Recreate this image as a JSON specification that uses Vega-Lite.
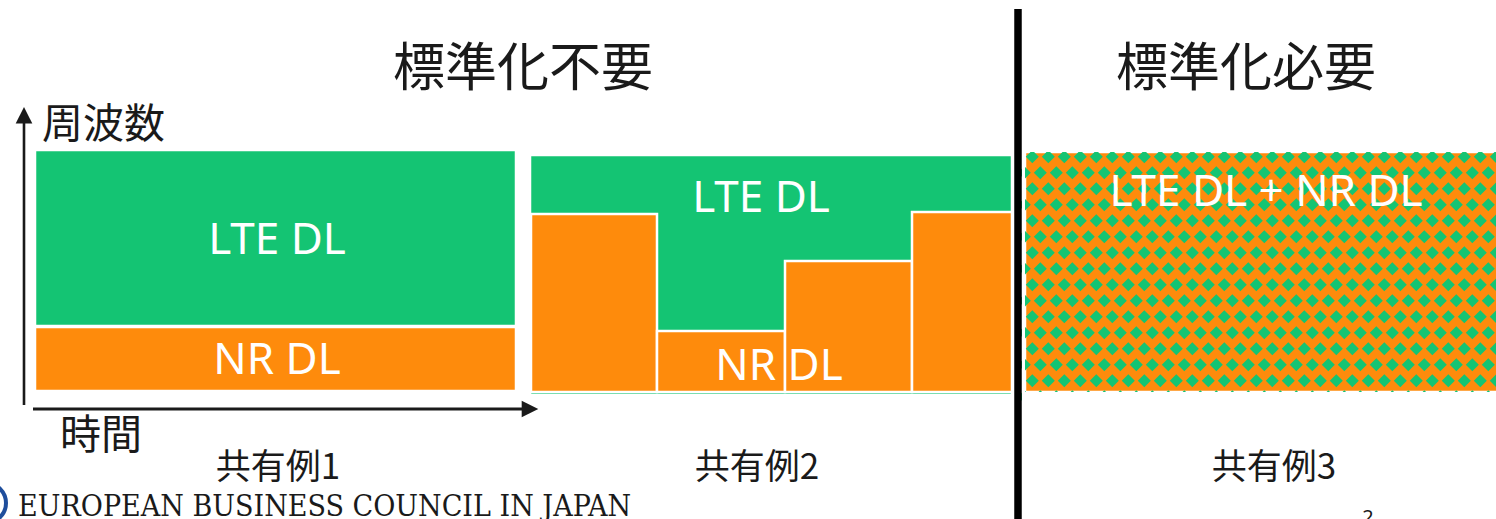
{
  "$schema": "https://vega.github.io/schema/vega-lite/v6.json",
  "width": 1496,
  "height": 519,
  "autosize": {"type": "none"},
  "padding": 0,
  "background": "white",
  "config": {"view": {"stroke": null}},
  "datasets": {
    "blocks": [
      {"x": 35, "x2": 516, "y": 150, "y2": 326, "k": "LTE DL"},
      {"x": 35, "x2": 516, "y": 327, "y2": 391, "k": "NR DL"},
      {"x": 530, "x2": 1012, "y": 155, "y2": 395, "k": "LTE DL"},
      {"x": 531, "x2": 657, "y": 214, "y2": 392, "k": "NR DL"},
      {"x": 657, "x2": 785, "y": 331, "y2": 392, "k": "NR DL"},
      {"x": 785, "x2": 912, "y": 261, "y2": 392, "k": "NR DL"},
      {"x": 912, "x2": 1012, "y": 212, "y2": 392, "k": "NR DL"},
      {"x": 1025, "x2": 1500, "y": 152, "y2": 392, "k": "NR DL"}
    ],
    "patternRows": [
      {"x": 1032.3, "y": 156.7}, {"x": 1024.3, "y": 172.7},
      {"x": 1032.3, "y": 188.7}, {"x": 1024.3, "y": 204.7},
      {"x": 1032.3, "y": 220.7}, {"x": 1024.3, "y": 236.7},
      {"x": 1032.3, "y": 252.7}, {"x": 1024.3, "y": 268.7},
      {"x": 1032.3, "y": 284.7}, {"x": 1024.3, "y": 300.7},
      {"x": 1032.3, "y": 316.7}, {"x": 1024.3, "y": 332.7},
      {"x": 1032.3, "y": 348.7}, {"x": 1024.3, "y": 364.7},
      {"x": 1032.3, "y": 380.7}, {"x": 1024.3, "y": 396.7}
    ],
    "masks": [
      {"x": 1022, "x2": 1025, "y": 140, "y2": 405},
      {"x": 1022, "x2": 1500, "y": 140, "y2": 152},
      {"x": 1022, "x2": 1500, "y": 392, "y2": 405}
    ],
    "divider": [{"x": 1018, "y": 9, "y2": 525}],
    "vaxis": [{"x": 24, "y": 122, "y2": 405}],
    "haxis": [{"x": 33, "x2": 523, "y": 409}],
    "arrowUp": [{"x": 24, "y": 115.3}],
    "arrowRight": [{"x": 530, "y": 409}],
    "logo": [{"x": -14, "y": 503}],
    "titles": [
      {"x": 523, "y": 70, "t": "標準化不要"},
      {"x": 1246, "y": 70, "t": "標準化必要"}
    ],
    "axisLabels": [
      {"x": 42, "y": 126, "t": "周波数"},
      {"x": 60, "y": 437, "t": "時間"}
    ],
    "inner": [
      {"x": 277, "y": 241, "t": "LTE DL"},
      {"x": 277, "y": 361, "t": "NR DL"},
      {"x": 761, "y": 199, "t": "LTE DL"},
      {"x": 779, "y": 367, "t": "NR DL"},
      {"x": 1266, "y": 193, "t": "LTE DL + NR DL"}
    ],
    "captions": [
      {"x": 278, "y": 468, "t": "共有例1"},
      {"x": 757, "y": 468, "t": "共有例2"},
      {"x": 1274, "y": 468, "t": "共有例3"}
    ],
    "footer": [{"x": 18, "y": 516, "t": "EUROPEAN BUSINESS COUNCIL IN JAPAN"}],
    "page": [{"x": 1368, "y": 524, "t": "2"}]
  },
  "layer": [
    {
      "data": {"name": "blocks"},
      "mark": {"type": "rect", "stroke": "white", "strokeWidth": 2.5},
      "encoding": {
        "x": {"field": "x", "type": "quantitative", "scale": {"domain": [0, 1496], "nice": false, "zero": false}, "axis": null},
        "x2": {"field": "x2"},
        "y": {"field": "y", "type": "quantitative", "scale": {"domain": [0, 519], "nice": false, "zero": false, "reverse": true}, "axis": null},
        "y2": {"field": "y2"},
        "color": {"field": "k", "type": "nominal", "scale": {"domain": ["LTE DL", "NR DL"], "range": ["#14C473", "#FE8B0C"]}, "legend": null}
      }
    },
    {
      "data": {"name": "patternRows"},
      "mark": {"type": "point", "filled": true, "opacity": 1, "strokeWidth": 0, "size": 4, "color": "#14C473",
        "shape": "M0 -6.5L6.5 0L0 6.5L-6.5 0ZM16 -6.5L22.5 0L16 6.5L9.5 0ZM32 -6.5L38.5 0L32 6.5L25.5 0ZM48 -6.5L54.5 0L48 6.5L41.5 0ZM64 -6.5L70.5 0L64 6.5L57.5 0ZM80 -6.5L86.5 0L80 6.5L73.5 0ZM96 -6.5L102.5 0L96 6.5L89.5 0ZM112 -6.5L118.5 0L112 6.5L105.5 0ZM128 -6.5L134.5 0L128 6.5L121.5 0ZM144 -6.5L150.5 0L144 6.5L137.5 0ZM160 -6.5L166.5 0L160 6.5L153.5 0ZM176 -6.5L182.5 0L176 6.5L169.5 0ZM192 -6.5L198.5 0L192 6.5L185.5 0ZM208 -6.5L214.5 0L208 6.5L201.5 0ZM224 -6.5L230.5 0L224 6.5L217.5 0ZM240 -6.5L246.5 0L240 6.5L233.5 0ZM256 -6.5L262.5 0L256 6.5L249.5 0ZM272 -6.5L278.5 0L272 6.5L265.5 0ZM288 -6.5L294.5 0L288 6.5L281.5 0ZM304 -6.5L310.5 0L304 6.5L297.5 0ZM320 -6.5L326.5 0L320 6.5L313.5 0ZM336 -6.5L342.5 0L336 6.5L329.5 0ZM352 -6.5L358.5 0L352 6.5L345.5 0ZM368 -6.5L374.5 0L368 6.5L361.5 0ZM384 -6.5L390.5 0L384 6.5L377.5 0ZM400 -6.5L406.5 0L400 6.5L393.5 0ZM416 -6.5L422.5 0L416 6.5L409.5 0ZM432 -6.5L438.5 0L432 6.5L425.5 0ZM448 -6.5L454.5 0L448 6.5L441.5 0ZM464 -6.5L470.5 0L464 6.5L457.5 0Z"},
      "encoding": {
        "x": {"field": "x", "type": "quantitative"},
        "y": {"field": "y", "type": "quantitative"}
      }
    },
    {
      "data": {"name": "masks"},
      "mark": {"type": "rect", "color": "white"},
      "encoding": {
        "x": {"field": "x", "type": "quantitative"},
        "x2": {"field": "x2"},
        "y": {"field": "y", "type": "quantitative"},
        "y2": {"field": "y2"}
      }
    },
    {
      "data": {"name": "divider"},
      "mark": {"type": "rule", "color": "#000000", "strokeWidth": 7.5},
      "encoding": {
        "x": {"field": "x", "type": "quantitative"},
        "y": {"field": "y", "type": "quantitative"},
        "y2": {"field": "y2"}
      }
    },
    {
      "data": {"name": "vaxis"},
      "mark": {"type": "rule", "color": "#1a1a1a", "strokeWidth": 2.6},
      "encoding": {
        "x": {"field": "x", "type": "quantitative"},
        "y": {"field": "y", "type": "quantitative"},
        "y2": {"field": "y2"}
      }
    },
    {
      "data": {"name": "haxis"},
      "mark": {"type": "rule", "color": "#1a1a1a", "strokeWidth": 2.8},
      "encoding": {
        "x": {"field": "x", "type": "quantitative"},
        "x2": {"field": "x2"},
        "y": {"field": "y", "type": "quantitative"}
      }
    },
    {
      "data": {"name": "arrowUp"},
      "mark": {"type": "point", "filled": true, "opacity": 1, "strokeWidth": 0, "size": 4, "color": "#1a1a1a", "shape": "M0 -8.2L8.3 8.2L-8.3 8.2Z"},
      "encoding": {
        "x": {"field": "x", "type": "quantitative"},
        "y": {"field": "y", "type": "quantitative"}
      }
    },
    {
      "data": {"name": "arrowRight"},
      "mark": {"type": "point", "filled": true, "opacity": 1, "strokeWidth": 0, "size": 4, "color": "#1a1a1a", "shape": "M-8.3 -8.3L8.3 0L-8.3 8.3Z"},
      "encoding": {
        "x": {"field": "x", "type": "quantitative"},
        "y": {"field": "y", "type": "quantitative"}
      }
    },
    {
      "data": {"name": "logo"},
      "mark": {"type": "point", "filled": false, "opacity": 1, "strokeWidth": 4, "size": 1600, "color": "#1F4E9C", "shape": "circle"},
      "encoding": {
        "x": {"field": "x", "type": "quantitative"},
        "y": {"field": "y", "type": "quantitative"}
      }
    },
    {
      "data": {"name": "titles"},
      "mark": {"type": "text", "font": "Noto Sans CJK JP", "fontSize": 52, "color": "#1a1a1a", "align": "center", "baseline": "middle"},
      "encoding": {
        "x": {"field": "x", "type": "quantitative"},
        "y": {"field": "y", "type": "quantitative"},
        "text": {"field": "t"}
      }
    },
    {
      "data": {"name": "axisLabels"},
      "mark": {"type": "text", "font": "Noto Sans CJK JP", "fontSize": 41, "color": "#1a1a1a", "align": "left", "baseline": "middle"},
      "encoding": {
        "x": {"field": "x", "type": "quantitative"},
        "y": {"field": "y", "type": "quantitative"},
        "text": {"field": "t"}
      }
    },
    {
      "data": {"name": "inner"},
      "mark": {"type": "text", "font": "Noto Sans", "fontSize": 44, "color": "white", "align": "center", "baseline": "middle"},
      "encoding": {
        "x": {"field": "x", "type": "quantitative"},
        "y": {"field": "y", "type": "quantitative"},
        "text": {"field": "t"}
      }
    },
    {
      "data": {"name": "captions"},
      "mark": {"type": "text", "font": "Noto Sans CJK JP", "fontSize": 35, "color": "#1a1a1a", "align": "center", "baseline": "middle"},
      "encoding": {
        "x": {"field": "x", "type": "quantitative"},
        "y": {"field": "y", "type": "quantitative"},
        "text": {"field": "t"}
      }
    },
    {
      "data": {"name": "footer"},
      "mark": {"type": "text", "font": "DejaVu Serif Condensed, Liberation Serif", "fontSize": 30, "color": "#1a1a1a", "align": "left", "baseline": "alphabetic"},
      "encoding": {
        "x": {"field": "x", "type": "quantitative"},
        "y": {"field": "y", "type": "quantitative"},
        "text": {"field": "t"}
      }
    },
    {
      "data": {"name": "page"},
      "mark": {"type": "text", "font": "Noto Sans", "fontSize": 20, "color": "#1a1a1a", "align": "center", "baseline": "alphabetic"},
      "encoding": {
        "x": {"field": "x", "type": "quantitative"},
        "y": {"field": "y", "type": "quantitative"},
        "text": {"field": "t"}
      }
    }
  ]
}
